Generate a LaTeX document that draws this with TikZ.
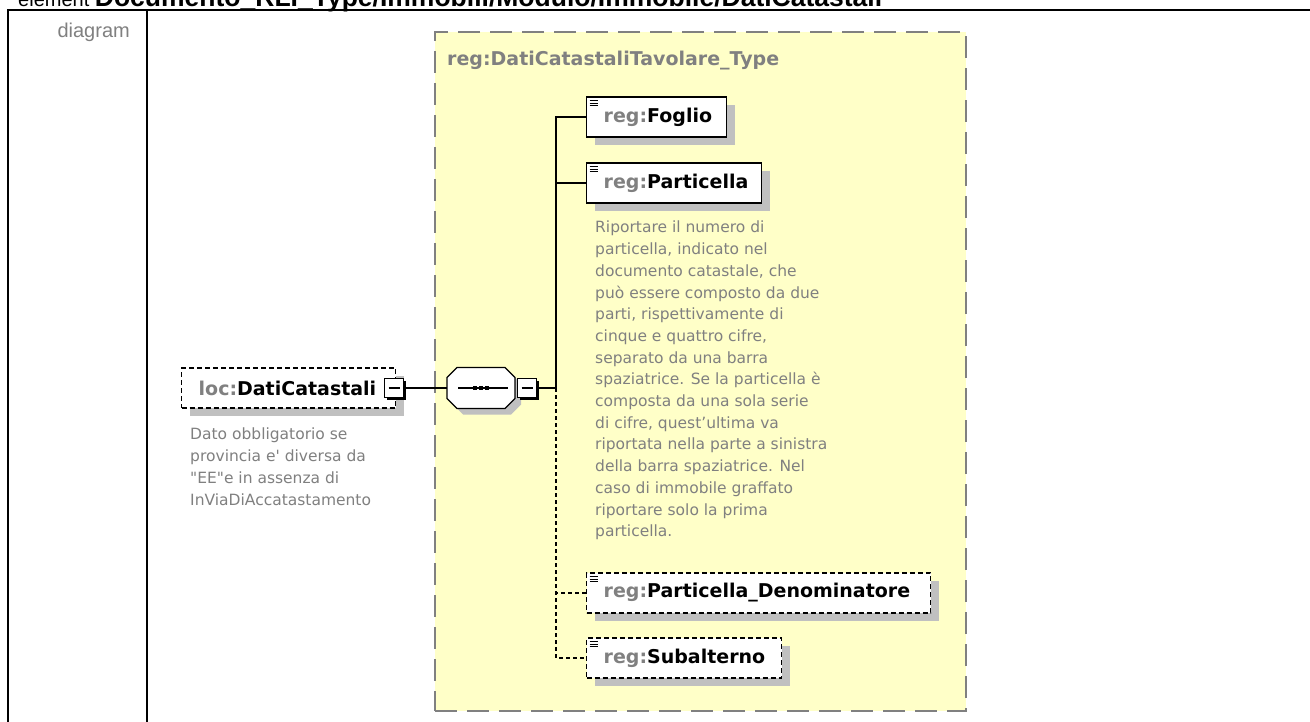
\documentclass[tikz,border=0pt]{standalone}
\usepackage{fontspec}
\setmainfont{Liberation Sans}
\newfontfamily\dv{DejaVu Sans}
\usetikzlibrary{shadows}
\definecolor{tg}{RGB}{128,128,128}
\definecolor{shg}{RGB}{192,192,192}
\definecolor{ylw}{RGB}{255,255,200}
\newcommand{\nmfont}{\dv\bfseries\fontsize{19}{22}\selectfont}
\newcommand{\annfont}{\dv\fontsize{15.5}{21.7}\selectfont}
\tikzset{
  tbl/.style={line width=2pt, line cap=rect},
  elem/.style={rectangle, draw=black, line width=1.4pt, fill=white,
    minimum height=40pt, inner xsep=0pt, inner ysep=0pt, anchor=west,
    align=left, font=\nmfont,
    general shadow={fill=shg, shadow xshift=8pt, shadow yshift=-8pt},
    path picture={
      \foreach \d in {3.5,6,8.5}
        \draw[line width=0.9pt, solid] ([xshift=3pt,yshift=-\d pt]path picture bounding box.north west) -- ++(8pt,0pt);
    }},
  optelem/.style={elem, dash pattern=on 5pt off 3pt},
  minusbox/.style={rectangle, draw=black, line width=1.1pt, fill=white,
    minimum size=19pt, inner sep=0pt,
    general shadow={fill=black, shadow xshift=2pt, shadow yshift=-2pt},
    path picture={
      \draw[line width=1.1pt] ([xshift=-5.5pt]path picture bounding box.center) -- ++(11pt,0pt);
    }},
  conn/.style={line width=1.3pt},
  optconn/.style={line width=1.2pt, dash pattern=on 4pt off 3pt},
  ann/.style={anchor=north west, inner sep=0pt, align=left, font=\annfont, text=tg},
}
\begin{document}
\begin{tikzpicture}[x=1pt,y=-1pt]
\clip (0,0) rectangle (1310,722);
\fill[white] (0,0) rectangle (1310,722);

% title (cut at top)
\node[anchor=base west, inner sep=0pt, font=\fontsize{20}{24}\selectfont] (title) at (18,7)
  {element {\fontsize{26.5}{30}\selectfont\bfseries Documento\_RLI\_Type/Immobili/Modulo/Immobile/DatiCatastali}};

% table
\draw[tbl] (8,10) -- (1312,10);
\draw[tbl] (8,10) -- (8,724);
\draw[tbl] (147,10) -- (147,724);
\node[anchor=base east, inner sep=0pt, text=tg, font=\fontsize{20}{24}\selectfont] (lbl) at (130,38) {diagram};

% complex type container
\node[draw=tg, fill=ylw, line width=2pt, dash pattern=on 22pt off 10pt,
  minimum width=531pt, minimum height=679pt, anchor=north west, inner sep=0pt] (ctype) at (434,31) {};
\node[anchor=base west, inner sep=0pt, text=tg, font=\nmfont] (ctitle) at (447,66)
  {reg:DatiCatastaliTavolare\_Type};

% root element
\node[optelem, path picture={}, text width=214pt] (loc) at (181,388)
  {\hspace*{17pt}{\color{tg}loc:}DatiCatastali};
\node[minusbox] (locm) at (394,388) {};
\node[ann] (locann) at (190,428)
  {Dato obbligatorio se\\provincia e' diversa da\\"EE"e in assenza di\\InViaDiAccatastamento};

% sequence compositor (octagon)
\node[rectangle, minimum width=68pt, minimum height=41pt, inner sep=0pt] (seq) at (481,388) {};
\begin{scope}[shift={(6,6)}]
\fill[shg] (457,367.5) -- (505,367.5) -- (515,377.5) -- (515,398.5) -- (505,408.5)
  -- (457,408.5) -- (447,398.5) -- (447,377.5) -- cycle;
\end{scope}
\draw[line width=1.3pt, fill=white] (457,367.5) -- (505,367.5) -- (515,377.5) -- (515,398.5) -- (505,408.5)
  -- (457,408.5) -- (447,398.5) -- (447,377.5) -- cycle;
\draw[line width=1.3pt] ([xshift=-23pt]seq.center) -- ([xshift=27pt]seq.center);
\foreach \dx in {-6,0,6}
  \fill ([xshift=\dx pt-2pt, yshift=-2pt]seq.center) rectangle ++(4pt,4pt);
\node[minusbox] (seqm) at (527,388) {};

\draw[conn] (locm.east) -- (seq.west);
\coordinate (J) at (556,388);
\draw[conn] (seqm.east) -- (J);

% children
\node[elem, text width=140pt] (foglio) at (586,117) {\hspace*{17pt}{\color{tg}reg:}Foglio};
\node[elem, text width=175pt] (part) at (586,183) {\hspace*{17pt}{\color{tg}reg:}Particella};
\node[ann] (partann) at (595,221)
  {Riportare il numero di\\particella, indicato nel\\documento catastale, che\\può essere composto da due\\parti, rispettivamente di\\cinque e quattro cifre,\\separato da una barra\\spaziatrice. Se la particella è\\composta da una sola serie\\di cifre, quest’ultima va\\riportata nella parte a sinistra\\della barra spaziatrice. Nel\\caso di immobile graffato\\riportare solo la prima\\particella.};
\node[optelem, text width=344pt] (pden) at (586,593) {\hspace*{17pt}{\color{tg}reg:}Particella\_Denominatore};
\node[optelem, text width=195pt] (sub) at (586,658) {\hspace*{17pt}{\color{tg}reg:}Subalterno};

\draw[conn] (J) |- (foglio.west);
\draw[conn] (J) |- (part.west);
\draw[optconn] (J) |- (pden.west);
\draw[optconn] (J) |- (sub.west);
\end{tikzpicture}
\end{document}
